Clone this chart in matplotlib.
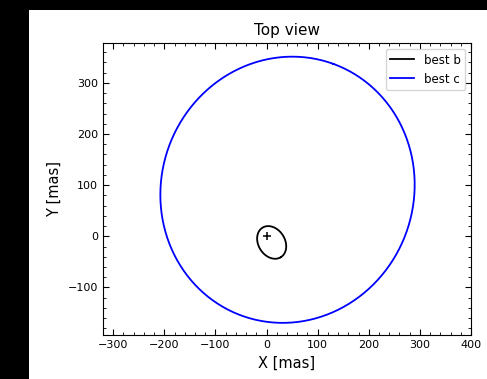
import numpy as np
import matplotlib
matplotlib.use("Agg")
import matplotlib.pyplot as plt
from matplotlib.patches import Rectangle
from matplotlib.ticker import MultipleLocator

# orbit ellipses: centre x, centre y, semi-major, semi-minor, tilt (deg)
orbit_names = ["best b", "best c"]
orbit_colors = ["black", "blue"]
centre_x = [10, 41]
centre_y = [-12, 91]
semi_major = [34, 262]
semi_minor = [26, 247]
tilt_deg = [-58, 70]

star_x = [0]
star_y = [0]

fig = plt.figure(figsize=(4.87, 3.79), dpi=100, facecolor="black")
fig.patches.append(Rectangle((29/487, 0), 1 - 29/487, 369/379, transform=fig.transFigure,
                             facecolor="white", edgecolor="none", zorder=-10))
ax = fig.add_axes([103/487, 44/379, 368/487, 292/379])
ax.set_zorder(5)

t = np.linspace(0, 2*np.pi, 400)
for i in range(len(orbit_names)):
    th = np.radians(tilt_deg[i])
    ex = semi_major[i]*np.cos(t)
    ey = semi_minor[i]*np.sin(t)
    x = centre_x[i] + ex*np.cos(th) - ey*np.sin(th)
    y = centre_y[i] + ex*np.sin(th) + ey*np.cos(th)
    ax.plot(x, y, color=orbit_colors[i], lw=1.3, label=orbit_names[i])

ax.plot(star_x, star_y, "+", color="black", ms=6, mew=1.1)

ax.set_xlim(-320, 400)
ax.set_ylim(-193, 378)
ax.xaxis.set_major_locator(MultipleLocator(100))
ax.xaxis.set_minor_locator(MultipleLocator(20))
ax.yaxis.set_major_locator(MultipleLocator(100))
ax.yaxis.set_minor_locator(MultipleLocator(20))
ax.tick_params(which="both", direction="in", top=True, right=True, labelsize=8)
ax.tick_params(which="major", length=4)
ax.tick_params(which="minor", length=2)

ax.set_title("Top view", fontsize=11)
ax.set_xlabel("X [mas]", fontsize=10.5)
ax.set_ylabel("Y [mas]", fontsize=10.5)
ax.legend(loc="upper right", fontsize=8.5)

fig.savefig("out.png", dpi=100, facecolor=fig.get_facecolor())
